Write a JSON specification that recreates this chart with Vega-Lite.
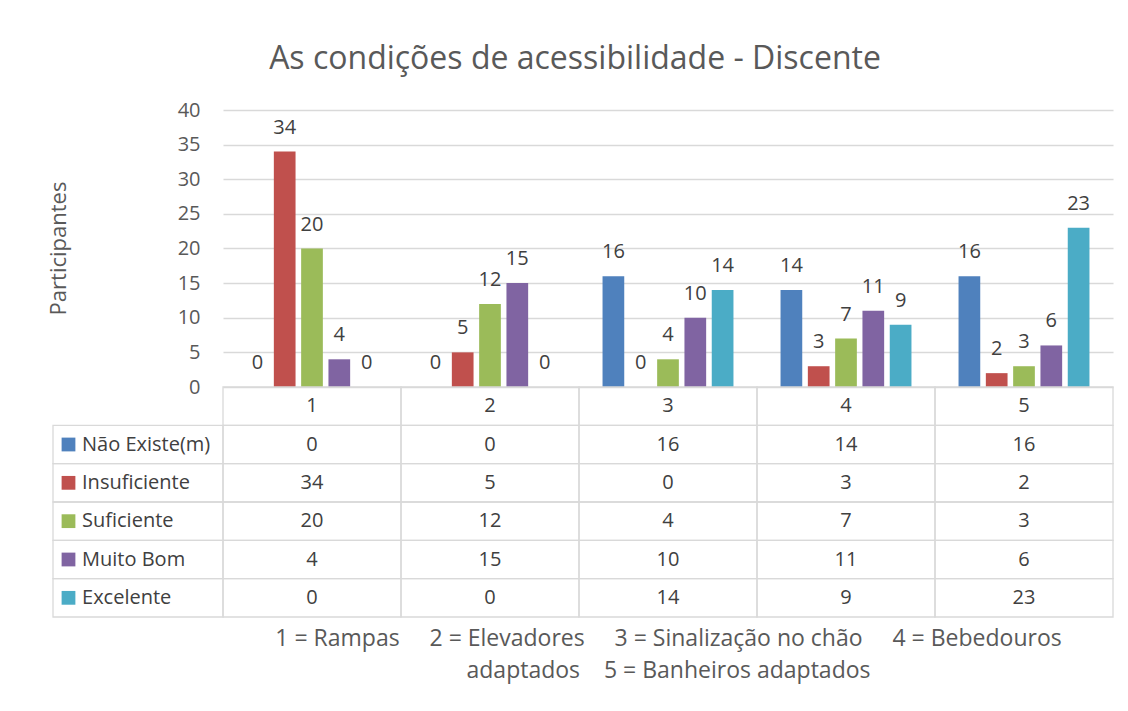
{
  "$schema": "https://vega.github.io/schema/vega-lite/v6.json",
  "width": 890,
  "height": 507,
  "autosize": {"type": "none"},
  "padding": {"left": 223, "top": 110, "right": 15, "bottom": 94},
  "background": "white",
  "title": {"text": "As condições de acessibilidade - Discente", "fontSize": 32, "font": "Open Sans", "fontWeight": "normal", "color": "#595959", "anchor": "middle", "dx": -93, "offset": 24},
  "config": {"font": "Open Sans", "view": {"stroke": null}},
  "datasets": {
    "main": [
      {"cat": "1", "series": "Não Existe(m)", "value": 0},
      {"cat": "1", "series": "Insuficiente", "value": 34},
      {"cat": "1", "series": "Suficiente", "value": 20},
      {"cat": "1", "series": "Muito Bom", "value": 4},
      {"cat": "1", "series": "Excelente", "value": 0},
      {"cat": "2", "series": "Não Existe(m)", "value": 0},
      {"cat": "2", "series": "Insuficiente", "value": 5},
      {"cat": "2", "series": "Suficiente", "value": 12},
      {"cat": "2", "series": "Muito Bom", "value": 15},
      {"cat": "2", "series": "Excelente", "value": 0},
      {"cat": "3", "series": "Não Existe(m)", "value": 16},
      {"cat": "3", "series": "Insuficiente", "value": 0},
      {"cat": "3", "series": "Suficiente", "value": 4},
      {"cat": "3", "series": "Muito Bom", "value": 10},
      {"cat": "3", "series": "Excelente", "value": 14},
      {"cat": "4", "series": "Não Existe(m)", "value": 14},
      {"cat": "4", "series": "Insuficiente", "value": 3},
      {"cat": "4", "series": "Suficiente", "value": 7},
      {"cat": "4", "series": "Muito Bom", "value": 11},
      {"cat": "4", "series": "Excelente", "value": 9},
      {"cat": "5", "series": "Não Existe(m)", "value": 16},
      {"cat": "5", "series": "Insuficiente", "value": 2},
      {"cat": "5", "series": "Suficiente", "value": 3},
      {"cat": "5", "series": "Muito Bom", "value": 6},
      {"cat": "5", "series": "Excelente", "value": 23}
    ],
    "hdr": [
      {"cat": "1"}, {"cat": "2"}, {"cat": "3"}, {"cat": "4"}, {"cat": "5"}
    ]
  },
  "data": {"name": "main"},
  "resolve": {"scale": {"y": "independent"}, "axis": {"x": "independent"}},
  "layer": [
    {
      "mark": {"type": "bar"},
      "encoding": {
        "x": {
          "field": "cat", "type": "nominal", "axis": null,
          "scale": {"type": "band", "domain": ["1", "2", "3", "4", "5"], "paddingInner": 0, "paddingOuter": 0}
        },
        "xOffset": {
          "field": "series", "type": "nominal",
          "scale": {"domain": ["Não Existe(m)", "Insuficiente", "Suficiente", "Muito Bom", "Excelente"], "paddingInner": 0.205, "paddingOuter": 0.862}
        },
        "y": {
          "field": "value", "type": "quantitative",
          "scale": {"domain": [-33.213, 40], "nice": false},
          "axis": {
            "orient": "left",
            "values": [0, 5, 10, 15, 20, 25, 30, 35, 40],
            "grid": true, "gridColor": "#d9d9d9", "gridWidth": 1.3,
            "domain": false, "ticks": false, "tickSize": 0, "labelPadding": 23,
            "labelFontSize": 20, "labelColor": "#595959",
            "title": "Participantes", "titleFontSize": 22, "titleColor": "#595959", "titleFontWeight": "normal",
            "titleX": -165, "titleY": 138, "titleAngle": -90, "titleAlign": "center", "titleBaseline": "middle"
          }
        },
        "color": {
          "field": "series", "type": "nominal",
          "scale": {"domain": ["Não Existe(m)", "Insuficiente", "Suficiente", "Muito Bom", "Excelente"], "range": ["#4F81BD", "#C0504D", "#9BBB59", "#8064A2", "#4BACC6"]},
          "legend": null
        }
      }
    },
    {
      "mark": {"type": "text", "baseline": "middle", "dy": -24, "fontSize": 20, "color": "#404040"},
      "encoding": {
        "x": {"field": "cat", "type": "nominal", "axis": null},
        "xOffset": {"field": "series", "type": "nominal"},
        "y": {"field": "value", "type": "quantitative", "axis": null, "scale": {"domain": [-33.213, 40], "nice": false}},
        "text": {"field": "value", "type": "quantitative"}
      }
    },
    {
      "mark": {"type": "rect", "fill": "transparent", "stroke": "#d9d9d9", "strokeWidth": 1.3},
      "encoding": {
        "x": {
          "field": "cat", "type": "nominal",
          "axis": {
            "orient": "bottom", "labels": false,
            "ticks": false, "domain": false, "grid": false,
            "title": ["1 = Rampas\u00a0\u00a0\u00a0\u00a0 2 = Elevadores\u00a0\u00a0\u00a0\u00a0 3 = Sinalização no chão\u00a0\u00a0\u00a0\u00a0 4 = Bebedouros", "adaptados\u00a0\u00a0\u00a0 5 = Banheiros adaptados"],
            "titleFontSize": 23, "titleColor": "#595959", "titleFontWeight": "normal", "titlePadding": 10, "titleLineHeight": 32
          }
        },
        "y": {
          "field": "series", "type": "nominal", "axis": null,
          "scale": {"type": "band", "domain": ["hdr", "Não Existe(m)", "Insuficiente", "Suficiente", "Muito Bom", "Excelente"], "range": [277, 507], "paddingInner": 0, "paddingOuter": 0}
        }
      }
    },
    {
      "data": {"name": "hdr"},
      "mark": {"type": "rect", "fill": "transparent", "stroke": "#d9d9d9", "strokeWidth": 1.3},
      "encoding": {
        "x": {"field": "cat", "type": "nominal", "axis": null},
        "y": {
          "datum": "hdr", "type": "nominal", "axis": null,
          "scale": {"type": "band", "domain": ["hdr", "Não Existe(m)", "Insuficiente", "Suficiente", "Muito Bom", "Excelente"], "range": [277, 507], "paddingInner": 0, "paddingOuter": 0}
        }
      }
    },
    {
      "transform": [{"filter": "datum.cat == '1'"}],
      "mark": {"type": "rect", "fill": "transparent", "stroke": "#d9d9d9", "strokeWidth": 1.3},
      "encoding": {
        "x": {"datum": "1", "bandPosition": -0.955, "axis": null},
        "x2": {"datum": "1", "bandPosition": 0},
        "y": {
          "field": "series", "type": "nominal", "axis": null,
          "scale": {"type": "band", "domain": ["hdr", "Não Existe(m)", "Insuficiente", "Suficiente", "Muito Bom", "Excelente"], "range": [277, 507], "paddingInner": 0, "paddingOuter": 0}
        }
      }
    },
    {
      "mark": {"type": "text", "fontSize": 20, "color": "#404040", "baseline": "middle"},
      "encoding": {
        "x": {"field": "cat", "type": "nominal", "axis": null},
        "y": {
          "field": "series", "type": "nominal", "axis": null,
          "scale": {"type": "band", "domain": ["hdr", "Não Existe(m)", "Insuficiente", "Suficiente", "Muito Bom", "Excelente"], "range": [277, 507], "paddingInner": 0, "paddingOuter": 0}
        },
        "text": {"field": "value", "type": "quantitative"}
      }
    },
    {
      "data": {"name": "hdr"},
      "mark": {"type": "text", "fontSize": 20, "color": "#404040", "baseline": "middle"},
      "encoding": {
        "x": {"field": "cat", "type": "nominal", "axis": null},
        "y": {
          "datum": "hdr", "type": "nominal", "axis": null,
          "scale": {"type": "band", "domain": ["hdr", "Não Existe(m)", "Insuficiente", "Suficiente", "Muito Bom", "Excelente"], "range": [277, 507], "paddingInner": 0, "paddingOuter": 0}
        },
        "text": {"field": "cat", "type": "nominal"}
      }
    },
    {
      "transform": [{"filter": "datum.cat == '1'"}],
      "mark": {"type": "point", "shape": "square", "filled": true, "size": 190, "opacity": 1},
      "encoding": {
        "x": {"datum": "1", "bandPosition": -0.868, "axis": null},
        "y": {
          "field": "series", "type": "nominal", "axis": null,
          "scale": {"type": "band", "domain": ["hdr", "Não Existe(m)", "Insuficiente", "Suficiente", "Muito Bom", "Excelente"], "range": [277, 507], "paddingInner": 0, "paddingOuter": 0}
        },
        "color": {"field": "series", "type": "nominal", "legend": null}
      }
    },
    {
      "transform": [{"filter": "datum.cat == '1'"}],
      "mark": {"type": "text", "align": "left", "fontSize": 20, "color": "#404040", "baseline": "middle"},
      "encoding": {
        "x": {"datum": "1", "bandPosition": -0.792, "axis": null},
        "y": {
          "field": "series", "type": "nominal", "axis": null,
          "scale": {"type": "band", "domain": ["hdr", "Não Existe(m)", "Insuficiente", "Suficiente", "Muito Bom", "Excelente"], "range": [277, 507], "paddingInner": 0, "paddingOuter": 0}
        },
        "text": {"field": "series", "type": "nominal"}
      }
    }
  ]
}
